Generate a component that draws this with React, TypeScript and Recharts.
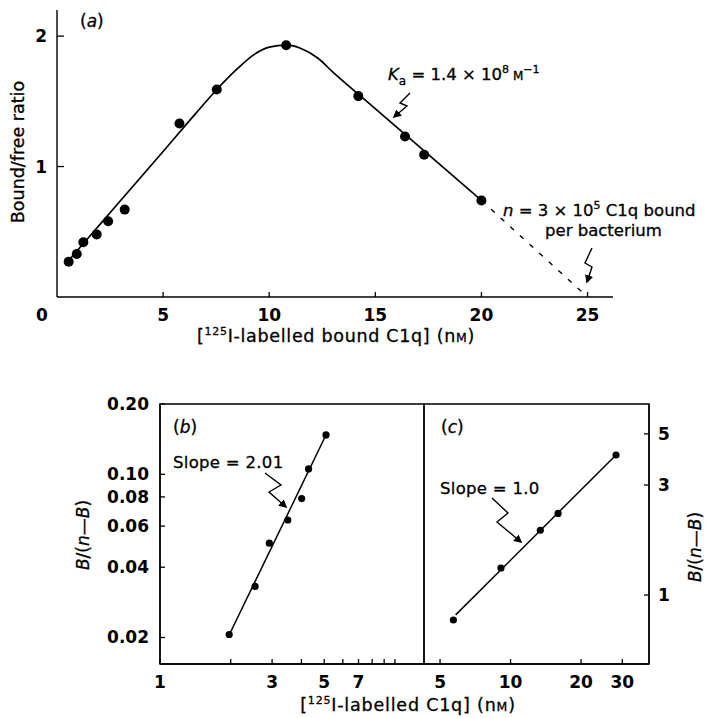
import React from "react";
import { ComposedChart, Scatter, Line, XAxis, YAxis, ReferenceArea } from "recharts";

const W = 707;
const H = 718;
const FONT = "'DejaVu Sans', sans-serif";

// (a) bound/free ratio against bound C1q
const aBound = [0.55, 0.93, 1.24, 1.87, 2.41, 3.19, 5.77, 7.53, 10.8, 14.2, 16.4, 17.3, 20.0];
const aRatio = [0.27, 0.33, 0.42, 0.48, 0.58, 0.67, 1.33, 1.59, 1.93, 1.54, 1.23, 1.09, 0.74];
const aCurveX = [0.55, 1.5, 2.5, 3.5, 5, 6.5, 7.5, 8.5, 9.3, 10, 10.8, 11.5, 12.3, 13, 14.2, 16.4, 17.3, 20];
const aCurveY = [0.28, 0.458, 0.646, 0.834, 1.115, 1.4, 1.585, 1.75, 1.86, 1.915, 1.93, 1.905, 1.83, 1.724, 1.555, 1.246, 1.12, 0.74];
const aExtrapX = [20, 25];
const aExtrapY = [0.74, 0];
const aXTicks = [0, 5, 10, 15, 20, 25];
const aYTicks = [1, 2];

// (b) log-log, low concentrations
const bX = [1.97, 2.54, 2.92, 3.5, 4.01, 4.29, 5.09];
const bY = [0.0206, 0.0331, 0.0507, 0.0637, 0.0787, 0.1054, 0.1475];
const bFitX = [1.97, 5.1];
const bFitY = [0.0205, 0.148];
const bXTicks = [1, 2, 3, 4, 5, 6, 7, 8, 9, 10];
const bXLabels = [1, 3, 5, 7];
const bYTicks = [0.02, 0.04, 0.06, 0.08, 0.1, 0.2];

// (c) log-log, high concentrations
const cX = [5.7, 9.1, 13.4, 15.96, 28.2];
const cY = [0.779, 1.31, 1.91, 2.26, 4.05];
const cFitX = [5.83, 28.2];
const cFitY = [0.82, 4.05];
const cXTicks = [5, 10, 20, 30];
const cYTicks = [1, 3, 5];

const zip = (xs: number[], ys: number[]) => xs.map((x, i) => ({ x, y: ys[i] }));

const aPts = zip(aBound, aRatio);
const aCurve = zip(aCurveX, aCurveY);
const aExtrap = zip(aExtrapX, aExtrapY);
const bPts = zip(bX, bY);
const bFit = zip(bFitX, bFitY);
const cPts = zip(cX, cY);
const cFit = zip(cFitX, cFitY);

const axisStyle = { stroke: "#000", strokeWidth: 1.4 };
const tickText = { fontFamily: FONT, fontSize: 17, fontWeight: 700, fill: "#000" };

// ticks point inwards, so draw them ourselves next to the label
const leftTick = (gap: number, len: number, fmt: (v: number) => string) => (p: any) => {
  const v = p.payload.value;
  const ax = p.x + gap;
  return (
    <g>
      <line x1={ax} x2={ax + len} y1={p.y} y2={p.y} stroke="#000" strokeWidth={1.3} />
      <text x={p.x} y={p.y} dy={6} textAnchor="end" {...tickText}>
        {fmt(v)}
      </text>
    </g>
  );
};

const rightTick = (gap: number, len: number) => (p: any) => {
  const ax = p.x - gap;
  return (
    <g>
      <line x1={ax} x2={ax - len} y1={p.y} y2={p.y} stroke="#000" strokeWidth={1.3} />
      <text x={p.x} y={p.y} dy={6} textAnchor="start" {...tickText}>
        {p.payload.value}
      </text>
    </g>
  );
};

const crossTick = (p: any) => (
  <line x1={p.x - 6} x2={p.x + 6} y1={p.y} y2={p.y} stroke="#000" strokeWidth={1.3} />
);

const bottomTick = (gap: number, len: number, show: (v: number) => boolean) => (p: any) => {
  const v = p.payload.value;
  const ay = p.y - gap;
  const zero = v === 0;
  return (
    <g>
      {!zero && <line x1={p.x} x2={p.x} y1={ay} y2={ay - len} stroke="#000" strokeWidth={1.3} />}
      {show(v) && (
        <text x={zero ? p.x - 15 : p.x} y={ay + 23.5} textAnchor="middle" {...tickText}>
          {v}
        </text>
      )}
    </g>
  );
};

const dot = (r: number) => (p: any) => <circle cx={p.cx} cy={p.cy} r={r} fill="#000" />;

const layer: React.CSSProperties = { position: "absolute", left: 0, top: 0 };
const heavy = { stroke: "#000", strokeWidth: 0.3 };

export default function App() {
  return (
    <div style={{ position: "absolute", left: 0, top: 0, width: W, height: H, background: "#fff" }}>
      {/* (a) */}
      <div style={layer}>
        <ComposedChart width={W} height={H} margin={{ top: 10, right: 94, bottom: 391, left: 17 }}>
          <XAxis
            type="number"
            dataKey="x"
            domain={[0, 26.2]}
            allowDataOverflow
            ticks={aXTicks}
            interval={0}
            height={30}
            tickSize={0}
            tickMargin={10}
            axisLine={axisStyle}
            tick={bottomTick(10, 5, () => true)}
          />
          <YAxis
            type="number"
            dataKey="y"
            domain={[0, 2.2]}
            allowDataOverflow
            ticks={aYTicks}
            interval={0}
            width={40}
            tickSize={0}
            tickMargin={10}
            axisLine={axisStyle}
            tick={leftTick(10, 7, (v) => String(v))}
          />
          <Line data={aCurve} dataKey="y" type="monotone" stroke="#000" strokeWidth={1.7} dot={false} isAnimationActive={false} />
          <Line data={aExtrap} dataKey="y" type="linear" stroke="#000" strokeWidth={1.4} strokeDasharray="5 8" dot={false} isAnimationActive={false} />
          <Scatter data={aPts} shape={dot(5)} isAnimationActive={false} />
        </ComposedChart>
      </div>

      {/* (b) */}
      <div style={layer}>
        <ComposedChart width={W} height={H} margin={{ top: 404, right: 283, bottom: 24, left: 120 }}>
          <XAxis
            type="number"
            dataKey="x"
            scale="log"
            domain={[1, 13.3]}
            allowDataOverflow
            ticks={bXTicks}
            interval={0}
            height={30}
            tickSize={0}
            tickMargin={10}
            axisLine={axisStyle}
            tick={bottomTick(10, 5, (v) => bXLabels.includes(v))}
          />
          <YAxis
            type="number"
            dataKey="y"
            scale="log"
            domain={[0.0154, 0.2]}
            allowDataOverflow
            ticks={bYTicks}
            interval={0}
            width={40}
            tickSize={0}
            tickMargin={11}
            axisLine={axisStyle}
            tick={leftTick(11, 5, (v) => v.toFixed(2))}
          />
          <ReferenceArea x1={1} x2={13.3} y1={0.0154} y2={0.2} fill="none" stroke="#000" strokeWidth={1.4} ifOverflow="visible" />
          <Line data={bFit} dataKey="y" type="linear" stroke="#000" strokeWidth={1.5} dot={false} isAnimationActive={false} />
          <Scatter data={bPts} shape={dot(3.6)} isAnimationActive={false} />
        </ComposedChart>
      </div>

      {/* (c) */}
      <div style={layer}>
        <ComposedChart width={W} height={H} margin={{ top: 404, right: 18, bottom: 24, left: 424 }}>
          <XAxis
            type="number"
            dataKey="x"
            scale="log"
            domain={[4.27, 39]}
            allowDataOverflow
            ticks={cXTicks}
            interval={0}
            height={30}
            tickSize={0}
            tickMargin={10}
            axisLine={axisStyle}
            tick={bottomTick(10, 5, () => true)}
          />
          <YAxis
            yAxisId="l"
            orientation="left"
            type="number"
            scale="log"
            domain={[0.502, 6.74]}
            allowDataOverflow
            ticks={cYTicks}
            interval={0}
            width={0}
            tickSize={0}
            tickMargin={0}
            axisLine={false}
            tick={crossTick}
          />
          <YAxis
            yAxisId="r"
            orientation="right"
            type="number"
            dataKey="y"
            scale="log"
            domain={[0.502, 6.74]}
            allowDataOverflow
            ticks={cYTicks}
            interval={0}
            width={40}
            tickSize={0}
            tickMargin={9}
            axisLine={axisStyle}
            tick={rightTick(9, 5)}
          />
          <ReferenceArea yAxisId="r" x1={4.27} x2={39} y1={0.502} y2={6.74} fill="none" stroke="#000" strokeWidth={1.4} ifOverflow="visible" />
          <Line yAxisId="r" data={cFit} dataKey="y" type="linear" stroke="#000" strokeWidth={1.5} dot={false} isAnimationActive={false} />
          <Scatter yAxisId="r" data={cPts} shape={dot(3.6)} isAnimationActive={false} />
        </ComposedChart>
      </div>

      {/* titles and annotations */}
      <svg width={W} height={H} style={layer} fontFamily={FONT} fill="#000">
        <defs>
          <marker id="head" viewBox="0 0 10 10" refX="8" refY="5" markerWidth="6" markerHeight="6" orient="auto">
            <path d="M0,0 L10,5 L0,10 z" fill="#000" />
          </marker>
        </defs>

        <g {...heavy}>
          <text x={80} y={27} fontSize={17}>
            (<tspan fontStyle="italic">a</tspan>)
          </text>
          <text transform="translate(24,152) rotate(-90)" textAnchor="middle" fontSize={17.5}>
            Bound/free ratio
          </text>
          <text x={336} y={342} textAnchor="middle" fontSize={17.5} letterSpacing={0.7}>
            [<tspan fontSize={11} dy={-7}>125</tspan>
            <tspan dy={7}>I-labelled bound C1q] (n</tspan>
            <tspan fontSize={12.5}>M</tspan>)
          </text>

          <text x={388} y={80} fontSize={16.5}>
            <tspan fontStyle="italic">K</tspan>
            <tspan fontSize={12} dy={5}>a</tspan>
            <tspan dy={-5}> = 1.4 × 10</tspan>
            <tspan fontSize={11} dy={-7}>8</tspan>
            <tspan fontSize={12} dy={7}> M</tspan>
            <tspan fontSize={11} dy={-7}>−1</tspan>
          </text>

          <text x={503} y={216} fontSize={16.5}>
            <tspan fontStyle="italic">n</tspan> = 3 × 10
            <tspan fontSize={11} dy={-7}>5</tspan>
            <tspan dy={7}> C1q bound</tspan>
          </text>
          <text x={545} y={236} fontSize={16.5}>
            per bacterium
          </text>

          <text x={173} y={433} fontSize={17}>
            (<tspan fontStyle="italic">b</tspan>)
          </text>
          <text x={173} y={468} fontSize={16.5} letterSpacing={0.3}>
            Slope = 2.01
          </text>

          <text x={441} y={433} fontSize={17}>
            (<tspan fontStyle="italic">c</tspan>)
          </text>
          <text x={440} y={494} fontSize={16.5} letterSpacing={0.3}>
            Slope = 1.0
          </text>

          <text transform="translate(89,535) rotate(-90)" textAnchor="middle" fontSize={17}>
            <tspan fontStyle="italic">B</tspan>/(<tspan fontStyle="italic">n</tspan>—<tspan fontStyle="italic">B</tspan>)
          </text>
          <text transform="translate(701,547) rotate(-90)" textAnchor="middle" fontSize={17}>
            <tspan fontStyle="italic">B</tspan>/(<tspan fontStyle="italic">n</tspan>—<tspan fontStyle="italic">B</tspan>)
          </text>

          <text x={408} y={711} textAnchor="middle" fontSize={17.5} letterSpacing={0.8}>
            [<tspan fontSize={11} dy={-7}>125</tspan>
            <tspan dy={7}>I-labelled C1q] (n</tspan>
            <tspan fontSize={12.5}>M</tspan>)
          </text>
        </g>

        <path d="M410,93 L400,103 L407,106 L394,117" fill="none" stroke="#000" strokeWidth={1.4} markerEnd="url(#head)" />
        <path d="M592,248 L585,263 L592,267 L587,282" fill="none" stroke="#000" strokeWidth={1.4} markerEnd="url(#head)" />
        <path d="M265,473 L281,485 L269,492 L286,507" fill="none" stroke="#000" strokeWidth={1.4} markerEnd="url(#head)" />
        <path d="M492,498 L508,513 L497,522 L521,542" fill="none" stroke="#000" strokeWidth={1.4} markerEnd="url(#head)" />
      </svg>
    </div>
  );
}
